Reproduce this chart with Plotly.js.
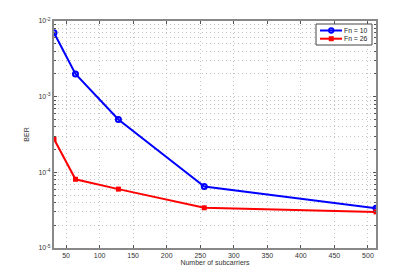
<!DOCTYPE html>
<html><head><meta charset="utf-8">
<script src="https://cdn.plot.ly/plotly-3.0.1.min.js"></script>
<style>html,body{margin:0;padding:0;background:#fff;}</style>
</head><body>
<div id="plot" style="width:415px;height:279px;"></div>
<script>
const subcarriers = [32, 64, 128, 256, 512];
const berFn10 = [7.0e-3, 2.0e-3, 5.0e-4, 6.5e-5, 3.35e-5];
const berFn26 = [2.75e-4, 8.1e-5, 6.0e-5, 3.4e-5, 3.0e-5];
const seriesNames = ['Fn = 10', 'Fn = 26'];
const xTicks = [50, 100, 150, 200, 250, 300, 350, 400, 450, 500];
const decades = [-5, -4, -3, -2];

const yVals = decades.map(d => Math.pow(10, d));
const yText = decades.map(d => '10<sup>' + d + '</sup>');
const yMinor = [];
decades.slice(0, -1).forEach(d => { for (let m = 2; m <= 9; m++) yMinor.push(m * Math.pow(10, d)); });

const W = 415, H = 279, L = 54, R = 39, T = 21, B = 31;
const pw = W - L - R, ph = H - T - B;
const px = x => (x - L) / pw;
const py = y => 1 - (y - T) / ph;

const font = {family: 'Liberation Sans, Arial, sans-serif', size: 7, color: '#333'};
const traces = [
  {x: subcarriers, y: berFn10, name: seriesNames[0], mode: 'lines+markers',
   line: {color: '#0000ff', width: 2},
   marker: {symbol: 'circle-open', size: 5, color: '#0000ff', line: {width: 2, color: '#0000ff'}}},
  {x: subcarriers, y: berFn26, name: seriesNames[1], mode: 'lines+markers',
   line: {color: '#ff0000', width: 2},
   marker: {symbol: 'square', size: 5, color: '#ff0000'}}
];

// manual compact legend (MATLAB style)
const colors = ['#0000ff', '#ff0000'];
const rowsY = [30.5, 38.7];
const shapes = [
  {type: 'rect', xref: 'paper', yref: 'paper', x0: px(316), x1: px(372), y0: py(45), y1: py(24),
   line: {color: '#444', width: 1}, fillcolor: '#fff', layer: 'above'}
];
const annotations = [];
rowsY.forEach((yy, i) => {
  shapes.push({type: 'line', xref: 'paper', yref: 'paper', x0: px(320), x1: px(342), y0: py(yy), y1: py(yy),
    line: {color: colors[i], width: 2}, layer: 'above'});
  if (i === 0) {
    shapes.push({type: 'circle', xref: 'paper', yref: 'paper', x0: px(329), x1: px(333.5), y0: py(yy + 2.25), y1: py(yy - 2.25),
      line: {color: colors[i], width: 1.8}, fillcolor: 'rgba(0,0,0,0)', layer: 'above'});
  } else {
    shapes.push({type: 'rect', xref: 'paper', yref: 'paper', x0: px(329), x1: px(333.5), y0: py(yy + 2.25), y1: py(yy - 2.25),
      line: {color: colors[i], width: 0.5}, fillcolor: colors[i], layer: 'above'});
  }
  annotations.push({xref: 'paper', yref: 'paper', x: px(343), y: py(yy), xanchor: 'left', yanchor: 'middle',
    text: seriesNames[i], showarrow: false, borderpad: 0, font: {family: font.family, size: 6.8, color: '#222'}});
});

const gridStyle = {showgrid: true, gridcolor: '#c4c4c4', griddash: '1px,3px', gridwidth: 1};
const layout = {
  width: W, height: H,
  margin: {l: L, r: R, t: T, b: B},
  paper_bgcolor: '#fff', plot_bgcolor: '#fff',
  font: font,
  showlegend: false,
  shapes: shapes,
  annotations: annotations,
  xaxis: Object.assign({range: [32, 512], tickmode: 'array', tickvals: xTicks, ticks: 'inside', ticklen: 3,
    tickcolor: '#555', showline: true, linecolor: '#888', linewidth: 2, mirror: 'allticks',
    zeroline: false, tickfont: font,
    title: {text: 'Number of subcarriers', font: font, standoff: 2}}, gridStyle),
  yaxis: Object.assign({type: 'log', range: [-5, -2], tickmode: 'array', tickvals: yVals, ticktext: yText,
    ticks: 'inside', ticklen: 3, tickcolor: '#555',
    showline: true, linecolor: '#888', linewidth: 2, mirror: 'allticks',
    zeroline: false, tickfont: font,
    minor: Object.assign({tickmode: 'array', tickvals: yMinor, ticks: 'inside', ticklen: 2, tickcolor: '#555'}, gridStyle),
    title: {text: 'BER', font: font, standoff: 8}}, gridStyle)
};
Plotly.newPlot('plot', traces, layout, {staticPlot: true, displayModeBar: false});
</script>
</body></html>
